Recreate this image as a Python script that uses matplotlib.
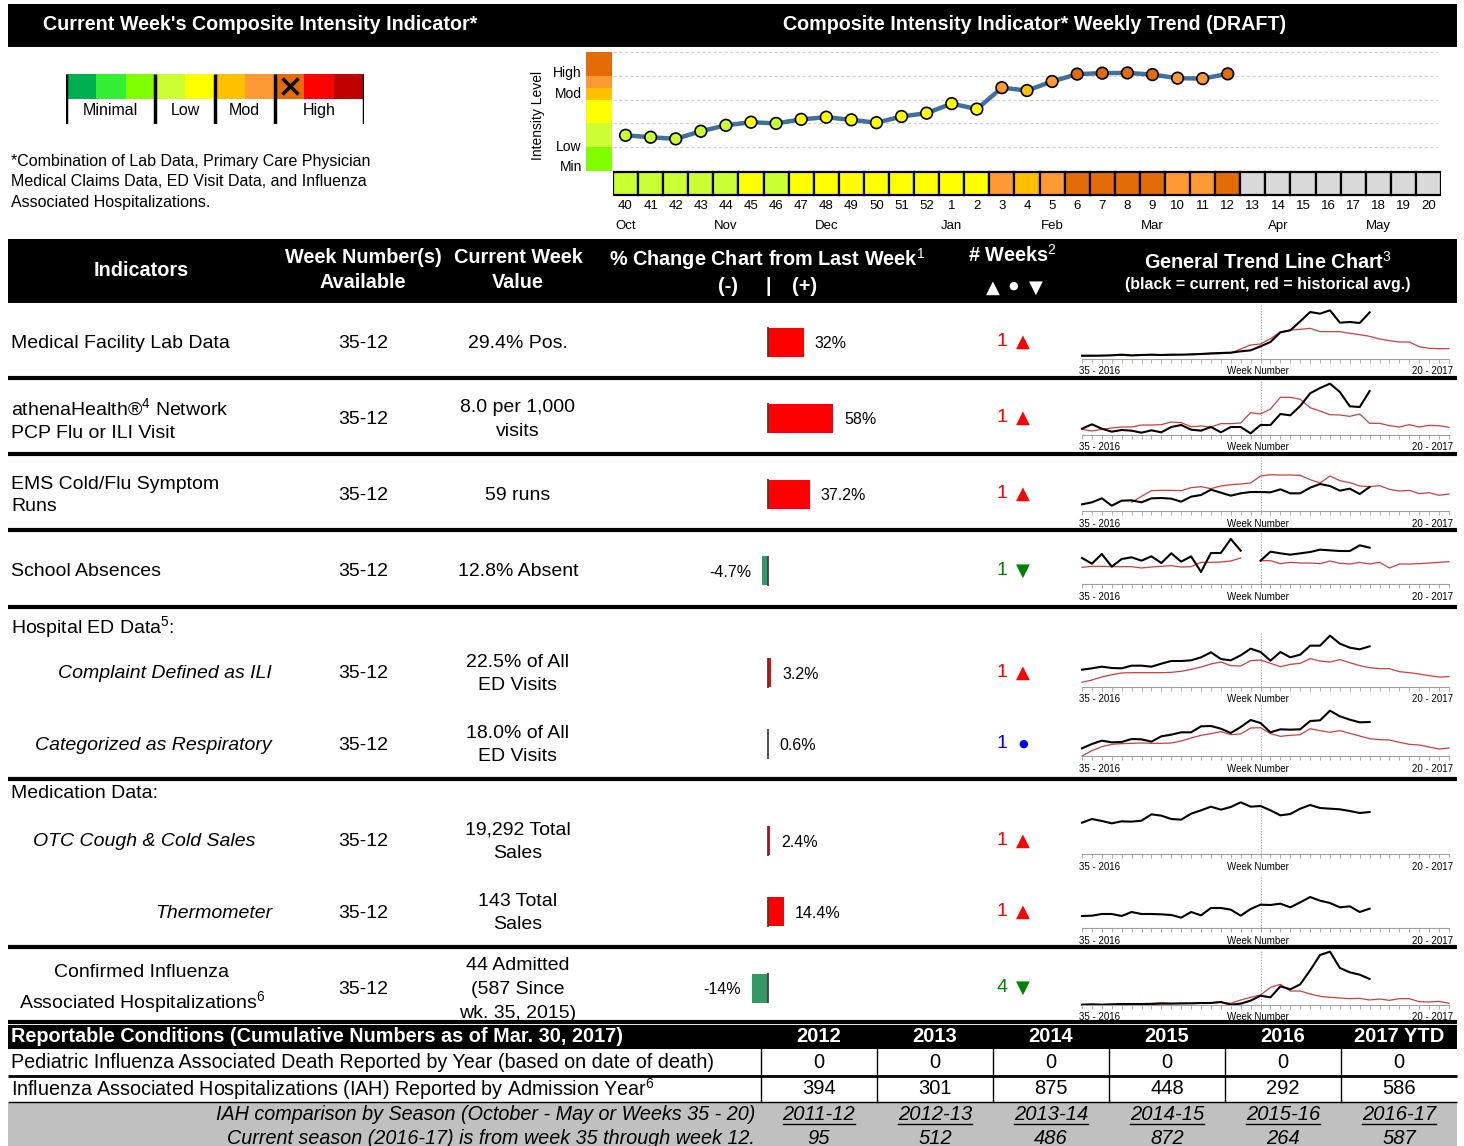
import matplotlib
matplotlib.use('Agg')
import matplotlib.pyplot as plt
import numpy as np

W, H = 1464, 1146
plt.rcParams['font.family'] = ['Liberation Sans', 'DejaVu Sans']
plt.rcParams['mathtext.fontset'] = 'custom'
plt.rcParams['mathtext.rm'] = 'Liberation Sans'
plt.rcParams['mathtext.it'] = 'Liberation Sans:italic'
plt.rcParams['mathtext.bf'] = 'Liberation Sans:bold'
NARROW = ['Liberation Sans Narrow', 'Liberation Sans']

# ---- intensity scale legend ----
scale_colors = ['#00B050', '#33EE33', '#80FF00', '#CCFF33', '#FFFF00',
                '#FFC000', '#FF9933', '#E36C09', '#FF0000', '#C00000']
scale_groups = ['Minimal', 'Low', 'Mod', 'High']
scale_group_sizes = [3, 2, 2, 3]
current_cell = 7

# ---- weekly trend ----
trend_weeks = [40, 41, 42, 43, 44, 45, 46, 47, 48, 49, 50, 51, 52,
               1, 2, 3, 4, 5, 6, 7, 8, 9, 10, 11, 12,
               13, 14, 15, 16, 17, 18, 19, 20]
trend_level = [1.5, 1.42, 1.35, 1.67, 1.92, 2.05, 2.0, 2.17, 2.26, 2.15, 2.03, 2.29, 2.43,
               2.83, 2.6, 3.5, 3.38, 3.76, 4.07, 4.11, 4.12, 4.05, 3.9, 3.88, 4.08]
trend_cat = ['L1', 'L1', 'L1', 'L1', 'L1', 'L2', 'L1', 'L2', 'L2', 'L2', 'L2', 'L2', 'L2',
             'L2', 'L2', 'M2', 'M1', 'M2', 'H1', 'H1', 'H1', 'H1', 'M2', 'M2', 'H1',
             None, None, None, None, None, None, None, None]
cat_colors = {'L1': '#CCFF33', 'L2': '#FFFF00', 'M1': '#FFC000', 'M2': '#FF9933',
              'H1': '#E36C09', None: '#D9D9D9'}
month_names = ['Oct', 'Nov', 'Dec', 'Jan', 'Feb', 'Mar', 'Apr', 'May']
month_pos = [0, 4, 8, 13, 17, 21, 26, 30]
band_bounds = [0, 1, 2, 3, 3.5, 4, 5]
band_colors = ['#80FF00', '#CCFF33', '#FFFF00', '#FFC000', '#FF9933', '#E36C09']
level_names = ['High', 'Mod', 'Low', 'Min']
level_pos = [4.2, 3.28, 1.09, 0.25]

# ---- indicator table ----
indicator_labels = ["Medical Facility Lab Data",
                    "athenaHealth®$^{4}$ Network\nPCP Flu or ILI Visit",
                    "EMS Cold/Flu Symptom\nRuns",
                    "School Absences",
                    "Complaint Defined as ILI",
                    "Categorized as Respiratory",
                    "OTC Cough & Cold Sales",
                    "Thermometer",
                    "Confirmed Influenza\nAssociated Hospitalizations$^{6}$"]
week_ranges = ["35-12"] * 9
current_values = ["29.4% Pos.", "8.0 per 1,000\nvisits", "59 runs", "12.8% Absent",
                  "22.5% of All\nED Visits", "18.0% of All\nED Visits",
                  "19,292 Total\nSales", "143 Total\nSales",
                  "44 Admitted\n(587 Since\nwk. 35, 2015)"]
pct_change = [32, 58, 37.2, -4.7, 3.2, 0.6, 2.4, 14.4, -14]
pct_labels = ["32%", "58%", "37.2%", "-4.7%", "3.2%", "0.6%", "2.4%", "14.4%", "-14%"]
weeks_count = [1, 1, 1, 1, 1, 1, 1, 1, 4]
weeks_dir = ['up', 'up', 'up', 'down', 'up', 'flat', 'up', 'up', 'down']

# sparkline readings (height above baseline, weeks 35-2016 .. 20-2017)
nan = np.nan
lab_black = [10, 10, 10, 11, 13, 11, 12, 13, 12, 13, 13, 14, 15, 17, 18, 19, 23, 26, 38, 51,
             80, 86, 113, 141, 136, 146, 109, 111, 108, 140]
lab_red = [8, 9, 11, 11, 11, 10, 11, 12, 12, 12, 13, 13, 14, 15, 16, 18, 30, 42, 45, 61,
           81, 87, 89, 92, 82, 82, 82, 77, 73, 68, 60, 55, 51, 51, 37, 32, 31, 31]
athena_black = [19, 32, 19, 10, 15, 13, 7, 14, 8, 24, 30, 16, 13, 24, 8, 24, 24, 5, 30, 30,
                63, 59, 87, 125, 141, 154, 129, 86, 84, 132]
athena_red = [17, 12, 17, 21, 24, 24, 30, 30, 31, 39, 37, 25, 27, 24, 34, 34, 36, 67, 63, 78,
              113, 113, 107, 82, 72, 61, 60, 56, 63, 35, 35, 28, 24, 31, 24, 29, 28, 23]
ems_black = [20, 26, 38, 16, 31, 32, 26, 38, 39, 37, 28, 43, 48, 64, 55, 46, 53, 57, 57, 56,
             65, 53, 53, 70, 81, 75, 61, 67, 51, 72]
ems_red = [nan, nan, nan, nan, nan, 26, 44, 61, 62, 62, 61, 70, 73, 67, 75, 79, 81, 84, 105, 109,
           108, 108, 107, 94, 84, 105, 91, 85, 75, 73, 76, 65, 60, 62, 52, 55, 47, 51]
school_black = [78, 61, 90, 52, 75, 80, 70, 83, 63, 92, 67, 83, 36, 93, 93, 135, 100, nan,
                70, 97, 92, 88, 92, 96, 103, 101, 99, 99, 116, 109]
school_red = [50, 53, 53, 52, 52, 52, 48, 51, 53, 55, 51, 52, 65, 65, 66, 69, 78, nan,
              70, 70, 61, 65, 63, 63, 61, 69, 62, 60, 65, 60, 65, 48, 60, 60, 61, 63, 65, 67]
ili_black = [52, 56, 61, 57, 56, 64, 64, 61, 70, 78, 78, 80, 89, 104, 84, 80, 95, 115, 105, 79,
             105, 89, 97, 124, 124, 154, 130, 118, 113, 122]
ili_red = [14, 21, 30, 37, 42, 43, 43, 43, 43, 44, 47, 53, 60, 69, 75, 64, 63, 79, 81, 71,
           61, 68, 71, 85, 78, 75, 82, 73, 64, 58, 55, 55, 46, 43, 39, 34, 30, 31]
resp_black = [23, 36, 46, 41, 42, 51, 50, 43, 59, 64, 71, 71, 89, 90, 82, 69, 87, 108, 99, 71,
              80, 79, 80, 105, 107, 136, 119, 109, 101, 102]
resp_red = [0, 16, 28, 35, 37, 38, 39, 38, 38, 39, 45, 54, 62, 67, 73, 64, 66, 84, 85, 67,
            59, 62, 64, 82, 76, 71, 76, 68, 60, 52, 49, 48, 41, 35, 33, 27, 21, 24]
otc_black = [94, 105, 99, 92, 98, 97, 100, 119, 115, 105, 103, 121, 131, 142, 133, 141, 155, 142,
             144, 131, 116, 120, 136, 147, 138, 136, 134, 129, 123, 126]
thermo_black = [36, 37, 42, 42, 36, 48, 42, 42, 41, 39, 31, 48, 38, 60, 60, 55, 37, 57, 70, 69,
                73, 62, 77, 93, 82, 75, 62, 65, 48, 58]
iah_black = [1, 2, 1, 2, 3, 3, 3, 3, 4, 4, 5, 5, 6, 6, 9, 1, 4, 13, 28, 23,
             56, 47, 62, 104, 150, 160, 111, 98, 91, 78]
iah_red = [0, 1, 1, 2, 2, 3, 4, 5, 7, 5, 4, 5, 6, 7, 8, 5, 15, 23, 30, 53,
           62, 42, 42, 33, 26, 23, 21, 19, 20, 15, 18, 14, 19, 19, 10, 9, 11, 5]
spark_black = [lab_black, athena_black, ems_black, school_black, ili_black,
               resp_black, otc_black, thermo_black, iah_black]
spark_red = [lab_red, athena_red, ems_red, school_red, ili_red, resp_red, None, None, iah_red]

# ---- reportable conditions ----
years = ['2012', '2013', '2014', '2015', '2016', '2017 YTD']
ped_deaths = [0, 0, 0, 0, 0, 0]
iah_by_year = [394, 301, 875, 448, 292, 586]
seasons = ['2011-12', '2012-13', '2013-14', '2014-15', '2015-16', '2016-17']
iah_by_season = [95, 512, 486, 872, 264, 587]

# ================= layout =================
fig = plt.figure(figsize=(W / 100, H / 100), dpi=100)
bg = fig.add_axes([0, 0, 1, 1])
bg.set_xlim(0, W)
bg.set_ylim(H, 0)
bg.axis('off')


def px_axes(x0, y0, x1, y1):
    ax = fig.add_axes([x0 / W, 1 - y1 / H, (x1 - x0) / W, (y1 - y0) / H])
    ax.patch.set_alpha(0)
    return ax


def band(y0, y1, color='black', x0=8, x1=1457):
    bg.add_patch(plt.Rectangle((x0, y0), x1 - x0, y1 - y0, color=color, lw=0))


def hline(y, lw=3, x0=8, x1=1457, color='black'):
    bg.plot([x0, x1], [y, y], color=color, lw=lw, solid_capstyle='butt')


SYM = ['DejaVu Sans']

# top header
band(4, 47)
bg.text(260, 25, "Current Week's Composite Intensity Indicator*", color='white',
        fontsize=14.2, fontweight='bold', ha='center', va='center')
bg.text(1035, 25, "Composite Intensity Indicator* Weekly Trend (DRAFT)", color='white',
        fontsize=14.2, fontweight='bold', ha='center', va='center')

# legend scale
leg = px_axes(66, 74, 364, 124)
leg.set_xlim(0, 10)
leg.set_ylim(2.04, 0)
leg.axis('off')
leg.bar(np.arange(10) + 0.5, 1, bottom=0, width=1, color=scale_colors)
edges = np.concatenate([[0], np.cumsum(scale_group_sizes)])
leg.vlines(edges, 0, 2.04, color='black', lw=2.5)
for g, name in enumerate(scale_groups):
    leg.text((edges[g] + edges[g + 1]) / 2, 1.5, name, ha='center', va='center', fontsize=11.5)
leg.plot(current_cell + 0.5, 0.5, marker='x', ms=11, mew=2.5, color='black')

bg.text(11, 182, "*Combination of Lab Data, Primary Care Physician\nMedical Claims Data, ED Visit Data, and Influenza\nAssociated Hospitalizations.",
        fontsize=11.5, ha='left', va='center', linespacing=1.45)

# weekly trend
trend = px_axes(613, 46, 1441, 197)
trend.set_xlim(-0.5, 32.5)
trend.set_ylim(-1.09, 5.25)
trend.axis('off')
for lvl in range(6):
    trend.plot([-0.5, 32.4], [lvl, lvl], color='#CFCFCF', lw=0.8, ls=(0, (3, 2)), zorder=1)
xi = np.arange(len(trend_level))
trend.plot(xi, trend_level, color='#41709E', lw=3.2, zorder=2, solid_capstyle='round')
trend.scatter(xi, trend_level, s=70, c=[cat_colors[c] for c in trend_cat[:len(trend_level)]],
              edgecolors='black', linewidths=1.2, zorder=3)
trend.bar(np.arange(len(trend_weeks)), 0.97, bottom=-1.01, width=1,
          color=[cat_colors[c] for c in trend_cat], edgecolor='black', lw=1.6, zorder=2)
for i, w in enumerate(trend_weeks):
    trend.text(i, -1.47, str(w), ha='center', va='center', fontsize=9.5)
for m, p in zip(month_names, month_pos):
    trend.text(p, -2.31, m, ha='center', va='center', fontsize=9.5, clip_on=False)

lev = px_axes(586, 46, 612, 197)
lev.set_xlim(-0.5, 0.5)
lev.set_ylim(-1.09, 5.25)
lev.bar(0, np.diff(band_bounds), bottom=band_bounds[:-1], width=1, color=band_colors)
for s in lev.spines.values():
    s.set_visible(False)
lev.set_xticks([])
lev.set_yticks(level_pos, level_names)
lev.tick_params(axis='y', length=0, pad=3, labelsize=10)
bg.text(538, 115, 'Intensity Level', rotation=90, ha='center', va='center', fontsize=10)

# indicator table header
band(239, 303)
hdr = dict(color='white', fontsize=14.3, fontweight='bold', ha='center', va='center')
bg.text(141, 270, 'Indicators', **hdr)
bg.text(363, 270, 'Week Number(s)\nAvailable', linespacing=1.45, **hdr)
bg.text(518, 270, 'Current Week\nValue', linespacing=1.45, **hdr)
bg.text(767, 259, '% Change Chart from Last Week$^{1}$', **hdr)
bg.text(728, 286, '(-)', **hdr)
bg.text(768, 286, '|', **hdr)
bg.text(805, 286, '(+)', **hdr)
bg.text(1012, 255, '# Weeks$^{2}$', **hdr)
bg.text(993, 288, '▲', color='white', fontsize=13, ha='center', va='center', family=SYM)
bg.text(1013, 286, '●', color='white', fontsize=8, ha='center', va='center', family=SYM)
bg.text(1036, 288, '▼', color='white', fontsize=13, ha='center', va='center', family=SYM)
bg.text(1268, 262, 'General Trend Line Chart$^{3}$', **hdr)
bg.text(1268, 285, '(black = current, red = historical avg.)', color='white',
        fontsize=11.5, fontweight='bold', ha='center', va='center')

row_y = [342, 418, 494, 570.5, 672.5, 743.5, 840.5, 911.5, 988]
for y in [377.5, 454, 530, 606.5, 779, 947]:
    hline(y)

label_x = [11, 11, 11, 11, 272, 272, 255, 272, 142]
label_ha = ['left'] * 4 + ['right'] * 4 + ['center']
label_style = ['normal'] * 4 + ['italic'] * 4 + ['normal']
for i, y in enumerate(row_y):
    bg.text(label_x[i], y + 1.5, indicator_labels[i], ha=label_ha[i], va='center', fontsize=14,
            style=label_style[i], linespacing=1.45, multialignment='center' if i == 8 else 'left')
    bg.text(363, y + 1.5, week_ranges[i], ha='center', va='center', fontsize=14)
    bg.text(518, y + 1.5, current_values[i], ha='center', va='center', fontsize=14, linespacing=1.5)
bg.text(11, 627, 'Hospital ED Data$^{5}$:', ha='left', va='center', fontsize=14)
bg.text(11, 793, 'Medication Data:', ha='left', va='center', fontsize=14)

# % change bars
px_per_pct = 1.13
bars = px_axes(600, 303, 960, 1022)
bars.set_xlim(-(767.5 - 600) / px_per_pct, (960 - 767.5) / px_per_pct)
bars.set_ylim(1022, 303)
bars.axis('off')
bars.barh(row_y, pct_change, height=29, color=['#FF0000' if v > 0 else '#339966' for v in pct_change])
bars.vlines(np.zeros(len(row_y)), np.array(row_y) - 15, np.array(row_y) + 15, color='#404040', lw=1.3)
for v, lab, y in zip(pct_change, pct_labels, row_y):
    off = 11 / px_per_pct
    if v > 0:
        bars.text(v + off, y + 2, lab, ha='left', va='center', fontsize=11.5)
    else:
        bars.text(v - off, y + 2, lab, ha='right', va='center', fontsize=11.5)

# weeks count
dir_color = {'up': '#FF0000', 'down': '#008000', 'flat': '#0000FF'}
dir_sym = {'up': '▲', 'down': '▼', 'flat': '●'}
for n, d, y in zip(weeks_count, weeks_dir, row_y):
    bg.text(1002, y, str(n), color=dir_color[d], ha='center', va='center', fontsize=14)
    bg.text(1023, y, dir_sym[d], color=dir_color[d], ha='center', va='center',
            fontsize=8 if d == 'flat' else 13, family=SYM)

# sparklines
spark_rows = [(305, 359), (380, 435), (457, 511), (532, 584), (632, 687),
              (703, 756), (800, 854), (875, 928), (950, 1005)]
for k, (top, base) in enumerate(spark_rows):
    ax = px_axes(1082, top, 1449, base)
    ax.set_xlim(0, 37)
    ax.set_ylim(0, 3 * (base - top))
    for s in ['top', 'right', 'left']:
        ax.spines[s].set_visible(False)
    ax.spines['bottom'].set_color('#A0A0A0')
    ax.spines['bottom'].set_linewidth(0.8)
    ax.set_yticks([])
    ax.set_xticks(range(38))
    ax.tick_params(axis='x', direction='out', length=3, width=0.6, colors='#A0A0A0',
                   labelbottom=False)
    ax.axvline(18, color='#A0A0A0', lw=0.8, ls=(0, (1, 1.5)))
    if spark_red[k] is not None:
        ax.plot(range(len(spark_red[k])), spark_red[k], color='#C94040', lw=0.9, clip_on=False)
    ax.plot(range(len(spark_black[k])), spark_black[k], color='black', lw=1.5, clip_on=False)
    for xf, txt, ha in [(0, '35 - 2016', 'left'), (0.48, 'Week Number', 'center'), (1, '20 - 2017', 'right')]:
        ax.annotate(txt, xy=(xf, 0), xycoords='axes fraction', xytext=(-2 if ha == 'left' else (3 if ha == 'right' else 0), -9),
                    textcoords='offset points', ha=ha, va='center', fontsize=7)

# reportable conditions table
hline(1021.5, lw=3)
band(1025, 1049)
bg.text(11, 1037, 'Reportable Conditions (Cumulative Numbers as of Mar. 30, 2017)', color='white',
        fontsize=14.3, fontweight='bold', ha='left', va='center', family=NARROW)
band(1103, 1146, color='#C0C0C0')
hline(1075.5, lw=2)
hline(1102, lw=1)
col_edges = [761 + 116 * k for k in range(7)]
for xe in col_edges[:-1]:
    bg.plot([xe, xe], [1049, 1102], color='black', lw=1)
bg.text(11, 1062, 'Pediatric Influenza Associated Death Reported by Year (based on date of death)',
        fontsize=14.2, ha='left', va='center', family=NARROW)
bg.text(11, 1089, 'Influenza Associated Hospitalizations (IAH) Reported by Admission Year$^{6}$',
        fontsize=14.2, ha='left', va='center', family=NARROW)
bg.text(755, 1114, 'IAH comparison by Season (October - May or Weeks 35 - 20)',
        fontsize=14.2, ha='right', va='center', style='italic', family=NARROW)
bg.text(755, 1138, 'Current season (2016-17) is from week 35 through week 12.',
        fontsize=14.2, ha='right', va='center', style='italic', family=NARROW)
renderer = fig.canvas.get_renderer()
for k in range(6):
    cx = (col_edges[k] + col_edges[k + 1]) / 2
    bg.text(cx, 1037, years[k], color='white', fontsize=14.5, fontweight='bold',
            ha='center', va='center', family=NARROW)
    bg.text(cx, 1062, str(ped_deaths[k]), fontsize=14.5, ha='center', va='center', family=NARROW)
    bg.text(cx, 1089, str(iah_by_year[k]), fontsize=14.5, ha='center', va='center', family=NARROW)
    t = bg.text(cx, 1114, seasons[k], fontsize=14.5, ha='center', va='center',
                style='italic', family=NARROW)
    bb = t.get_window_extent(renderer)
    half = bb.width / 2
    bg.plot([cx - half, cx + half], [1124, 1124], color='black', lw=1)
    bg.text(cx, 1138, str(iah_by_season[k]), fontsize=14.5, ha='center', va='center',
            style='italic', family=NARROW)

fig.savefig('out.png', dpi=100)
